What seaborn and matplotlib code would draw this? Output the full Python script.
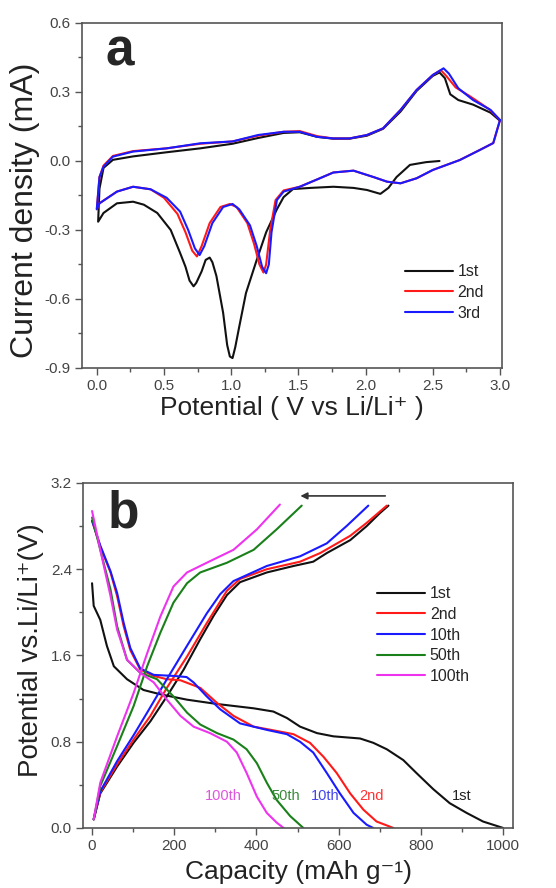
import numpy as np
import pandas as pd
import matplotlib
matplotlib.use('Agg')
import matplotlib.pyplot as plt
import seaborn as sns
from matplotlib.ticker import MultipleLocator, AutoMinorLocator, FormatStrFormatter

# ---- panel a: cyclic voltammetry (potential V, current mA), cathodic sweep then anodic sweep
cv1_v = [2.55, 2.45, 2.33, 2.23, 2.17, 2.11, 2.01, 1.91, 1.76, 1.59, 1.46, 1.39, 1.34, 1.26, 1.19, 1.11, 1.06,
         1.03, 1.01, 0.99, 0.97, 0.94, 0.89, 0.86, 0.84, 0.81, 0.78, 0.74, 0.72, 0.69, 0.66, 0.62, 0.55, 0.45,
         0.35, 0.27, 0.15, 0.05, 0.01,
         0.02, 0.05, 0.12, 0.27, 0.52, 0.77, 1.01, 1.2, 1.39, 1.51, 1.64, 1.76, 1.88, 2.01, 2.13, 2.26,
         2.38, 2.5, 2.55, 2.59, 2.63, 2.69, 2.8, 2.93, 3.0]
cv1_i = [0.0, -0.005, -0.017, -0.07, -0.117, -0.143, -0.126, -0.117, -0.112, -0.117, -0.122, -0.157, -0.21,
         -0.31, -0.43, -0.574, -0.72, -0.81, -0.857, -0.85, -0.80, -0.66, -0.50, -0.44, -0.42, -0.43,
         -0.48, -0.53, -0.545, -0.52, -0.46, -0.40, -0.30, -0.226, -0.19, -0.177, -0.184, -0.226, -0.264,
         -0.12, -0.03, 0.005, 0.02, 0.038, 0.055, 0.075, 0.10, 0.122, 0.125, 0.105, 0.097, 0.097, 0.11,
         0.14, 0.215, 0.305, 0.37, 0.385, 0.36, 0.29, 0.265, 0.245, 0.21, 0.175]

cv2_v = [3.0, 2.95, 2.85, 2.7, 2.5, 2.38, 2.26, 2.16, 2.06, 1.91, 1.76, 1.64, 1.51, 1.39, 1.33, 1.29, 1.26, 1.24,
         1.21, 1.17, 1.12, 1.04, 0.99, 0.92, 0.84, 0.78, 0.745, 0.71, 0.66, 0.60, 0.50, 0.40, 0.27, 0.15, 0.02,
         0.0, 0.02, 0.05, 0.12, 0.27, 0.52, 0.77, 1.01, 1.2, 1.39, 1.51, 1.64, 1.76, 1.88, 2.01, 2.13, 2.26,
         2.38, 2.5, 2.56, 2.6, 2.67, 2.78, 2.92, 3.0]
cv2_i = [0.178, 0.078, 0.048, 0.004, -0.039, -0.075, -0.097, -0.09, -0.07, -0.042, -0.05, -0.08, -0.112,
         -0.128, -0.17, -0.30, -0.45, -0.485, -0.45, -0.36, -0.27, -0.20, -0.187, -0.20, -0.27, -0.37,
         -0.415, -0.39, -0.31, -0.23, -0.16, -0.123, -0.112, -0.133, -0.184, -0.21,
         -0.07, -0.02, 0.022, 0.043, 0.055, 0.075, 0.085, 0.11, 0.127, 0.13, 0.108, 0.098, 0.098, 0.113,
         0.142, 0.222, 0.309, 0.374, 0.395, 0.37, 0.32, 0.28, 0.225, 0.178]

cv3_v = [3.0, 2.95, 2.85, 2.7, 2.5, 2.38, 2.26, 2.16, 2.06, 1.91, 1.76, 1.64, 1.51, 1.39, 1.34, 1.30, 1.28, 1.26,
         1.23, 1.19, 1.14, 1.06, 1.01, 0.94, 0.86, 0.80, 0.765, 0.73, 0.68, 0.62, 0.52, 0.40, 0.27, 0.15, 0.02,
         0.0, 0.02, 0.05, 0.12, 0.27, 0.52, 0.77, 1.01, 1.2, 1.39, 1.51, 1.64, 1.76, 1.88, 2.01, 2.13, 2.26,
         2.38, 2.5, 2.58, 2.62, 2.69, 2.8, 2.93, 3.0]
cv3_i = [0.178, 0.078, 0.048, 0.004, -0.039, -0.075, -0.097, -0.09, -0.07, -0.042, -0.05, -0.08, -0.112,
         -0.133, -0.17, -0.31, -0.45, -0.488, -0.46, -0.37, -0.28, -0.21, -0.187, -0.20, -0.27, -0.37,
         -0.409, -0.38, -0.30, -0.22, -0.16, -0.123, -0.112, -0.133, -0.184, -0.21,
         -0.07, -0.025, 0.019, 0.041, 0.055, 0.077, 0.085, 0.113, 0.127, 0.127, 0.105, 0.098, 0.098, 0.113,
         0.142, 0.222, 0.309, 0.374, 0.403, 0.38, 0.316, 0.265, 0.222, 0.178]

cv_labels = ['1st', '2nd', '3rd']
cv_colors = ['#111111', '#ff1a1a', '#1a1aff']

# ---- panel b: discharge / charge profiles (capacity mAh/g, potential V)
dis1_c = [0, 4, 20, 36, 53, 85, 125, 166, 231, 304, 393, 441, 474, 506, 547, 587, 652, 684, 717, 757, 789,
          830, 870, 911, 951, 1000]
dis1_v = [2.27, 2.06, 1.93, 1.69, 1.50, 1.38, 1.28, 1.24, 1.19, 1.15, 1.11, 1.08, 1.02, 0.94, 0.88, 0.85,
          0.83, 0.79, 0.73, 0.63, 0.51, 0.36, 0.23, 0.14, 0.06, 0.0]
chg1_c = [4, 20, 61, 101, 142, 182, 223, 263, 296, 328, 360, 425, 490, 538, 571, 628, 668, 700, 721]
chg1_v = [0.08, 0.32, 0.57, 0.79, 0.99, 1.22, 1.47, 1.75, 1.97, 2.16, 2.28, 2.37, 2.43, 2.47, 2.55, 2.67,
          2.80, 2.92, 2.99]

dis2_c = [0, 20, 45, 61, 77, 93, 117, 150, 182, 215, 263, 304, 344, 393, 449, 490, 530, 563, 595, 628,
          660, 692, 733]
dis2_v = [2.85, 2.61, 2.37, 2.15, 1.87, 1.65, 1.47, 1.41, 1.38, 1.37, 1.30, 1.16, 1.04, 0.94, 0.90, 0.87,
          0.79, 0.66, 0.51, 0.32, 0.17, 0.06, 0.0]
chg2_c = [4, 20, 61, 101, 142, 182, 231, 279, 328, 360, 425, 506, 555, 628, 668, 717]
chg2_v = [0.08, 0.33, 0.59, 0.82, 1.04, 1.30, 1.59, 1.90, 2.20, 2.31, 2.40, 2.47, 2.55, 2.71, 2.83, 2.99]

dis10_c = [0, 20, 45, 61, 77, 93, 117, 150, 200, 230, 247, 279, 312, 360, 425, 474, 506, 538, 571, 603,
           636, 668, 684]
dis10_v = [2.85, 2.62, 2.38, 2.18, 1.90, 1.67, 1.48, 1.42, 1.41, 1.40, 1.35, 1.22, 1.10, 0.97, 0.91, 0.87,
           0.80, 0.70, 0.51, 0.32, 0.14, 0.03, 0.0]
chg10_c = [4, 20, 61, 101, 134, 182, 231, 279, 312, 344, 425, 506, 571, 619, 672]
chg10_v = [0.08, 0.34, 0.62, 0.86, 1.07, 1.38, 1.69, 1.99, 2.17, 2.29, 2.43, 2.52, 2.64, 2.80, 2.99]

dis50_c = [0, 20, 45, 61, 85, 117, 158, 198, 231, 263, 304, 344, 376, 401, 425, 449, 482, 514]
dis50_v = [2.88, 2.58, 2.21, 1.87, 1.56, 1.44, 1.38, 1.22, 1.07, 0.96, 0.88, 0.82, 0.73, 0.60, 0.42, 0.26,
           0.11, 0.0]
chg50_c = [4, 20, 61, 101, 134, 166, 198, 231, 263, 328, 393, 449, 510]
chg50_v = [0.08, 0.39, 0.76, 1.13, 1.50, 1.81, 2.09, 2.27, 2.37, 2.46, 2.58, 2.77, 2.99]

dis100_c = [0, 20, 45, 61, 85, 117, 150, 182, 215, 247, 287, 328, 352, 376, 401, 425, 449, 466]
dis100_v = [2.94, 2.58, 2.15, 1.84, 1.56, 1.44, 1.35, 1.19, 1.04, 0.94, 0.88, 0.80, 0.70, 0.51, 0.29,
            0.14, 0.05, 0.0]
chg100_c = [4, 20, 61, 101, 134, 166, 198, 231, 279, 344, 401, 457]
chg100_v = [0.08, 0.42, 0.85, 1.25, 1.62, 1.96, 2.24, 2.37, 2.46, 2.58, 2.77, 3.0]

gc_labels = ['1st', '2nd', '10th', '50th', '100th']
gc_colors = ['#111111', '#ff1a1a', '#1a1aff', '#1a801a', '#ee33ee']
gc_text_colors = ['#222222', '#ff3333', '#4444ee', '#3a8a3a', '#e055e0']
gc_text_cap = [899, 680, 567, 470, 320]
gc_text_v = 0.3

arrow_from = (720, 3.08)
arrow_to = (500, 3.08)

# ---- style
sns.set_theme(style='ticks')
plt.rcParams['font.family'] = ['Liberation Sans', 'DejaVu Sans']
plt.rcParams['axes.edgecolor'] = '#555555'
plt.rcParams['xtick.color'] = '#555555'
plt.rcParams['ytick.color'] = '#555555'
plt.rcParams['xtick.labelcolor'] = '#444444'
plt.rcParams['ytick.labelcolor'] = '#444444'

fig = plt.figure(figsize=(5.56, 8.88), dpi=100)
ax_a = fig.add_axes([0.1475, 0.5856, 0.7554, 0.3885])
ax_b = fig.add_axes([0.1493, 0.0676, 0.7734, 0.3885])

# panel a
cv_data = [(cv1_v, cv1_i), (cv2_v, cv2_i), (cv3_v, cv3_i)]
for (v, i), lab, col in zip(cv_data, cv_labels, cv_colors):
    sns.lineplot(x=v, y=i, sort=False, estimator=None, color=col, lw=1.5, label=lab, ax=ax_a)

ax_a.set_xlim(-0.11, 3.015)
ax_a.set_ylim(-0.9, 0.6)
ax_a.xaxis.set_major_locator(MultipleLocator(0.5))
ax_a.yaxis.set_major_locator(MultipleLocator(0.3))
ax_a.set_xlabel('Potential ( V vs Li/Li⁺ )', fontsize=19, color='#222222', labelpad=2)
ax_a.set_ylabel('Current density (mA)', fontsize=23, color='#222222')
ax_a.yaxis.set_label_coords(-0.1, 0.458)
ax_a.text(0.055, 0.878, 'a', transform=ax_a.transAxes, fontsize=37, fontweight='bold', va='baseline')
ax_a.legend(loc='upper left', bbox_to_anchor=(0.769, 0.30), frameon=False, fontsize=11.5,
            handlelength=3.0, handletextpad=0.3, labelspacing=0.35, borderpad=0, borderaxespad=0)

# panel b
gc_data = [(dis1_c, dis1_v, chg1_c, chg1_v), (dis2_c, dis2_v, chg2_c, chg2_v),
           (dis10_c, dis10_v, chg10_c, chg10_v), (dis50_c, dis50_v, chg50_c, chg50_v),
           (dis100_c, dis100_v, chg100_c, chg100_v)]
for (dc, dv, cc, cvv), lab, col in zip(gc_data, gc_labels, gc_colors):
    sns.lineplot(x=dc, y=dv, sort=False, estimator=None, color=col, lw=1.5, label=lab, ax=ax_b)
    sns.lineplot(x=cc, y=cvv, sort=False, estimator=None, color=col, lw=1.5, ax=ax_b)

for lab, xc, tc in zip(gc_labels, gc_text_cap, gc_text_colors):
    ax_b.text(xc, gc_text_v, lab, color=tc, fontsize=10.5, ha='center', va='center')

ax_b.annotate('', xy=arrow_to, xytext=arrow_from,
              arrowprops=dict(arrowstyle='-|>', color='#333333', lw=1.2, mutation_scale=10))

ax_b.set_xlim(-22, 1024)
ax_b.set_ylim(0.0, 3.2)
ax_b.xaxis.set_major_locator(MultipleLocator(200))
ax_b.yaxis.set_major_locator(MultipleLocator(0.8))
ax_b.yaxis.set_major_formatter(FormatStrFormatter('%.1f'))
ax_b.set_xlabel('Capacity (mAh g⁻¹)', fontsize=19, color='#222222', labelpad=5)
ax_b.set_ylabel('Potential vs.Li/Li⁺(V)', fontsize=20, color='#222222')
ax_b.yaxis.set_label_coords(-0.09, 0.516)
ax_b.text(0.056, 0.872, 'b', transform=ax_b.transAxes, fontsize=37, fontweight='bold', va='baseline')
ax_b.legend(loc='upper left', bbox_to_anchor=(0.684, 0.70), frameon=False, fontsize=11.5,
            handlelength=3.0, handletextpad=0.3, labelspacing=0.35, borderpad=0, borderaxespad=0)

for ax in (ax_a, ax_b):
    ax.xaxis.set_minor_locator(AutoMinorLocator(2))
    ax.yaxis.set_minor_locator(AutoMinorLocator(2))
    ax.tick_params(which='major', direction='out', length=5, width=1, labelsize=11, pad=3)
    ax.tick_params(which='minor', direction='out', length=3, width=1)
    for s in ax.spines.values():
        s.set_linewidth(1.2)
        s.set_visible(True)

ax_a.yaxis.set_major_formatter(FormatStrFormatter('%.1f'))
ax_a.xaxis.set_major_formatter(FormatStrFormatter('%.1f'))

fig.savefig('out.png', dpi=100)
